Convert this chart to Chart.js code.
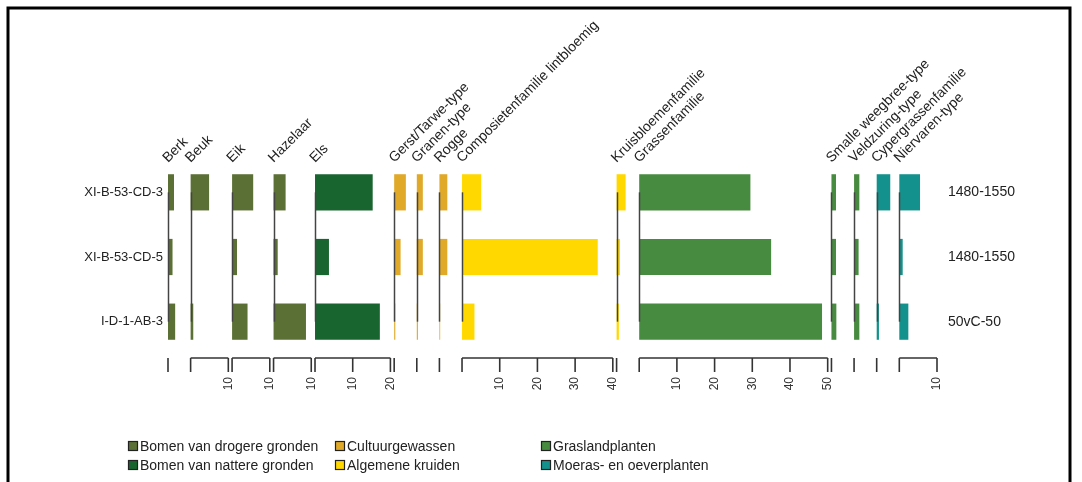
<!DOCTYPE html>
<html>
<head>
<meta charset="utf-8">
<script src="https://cdn.jsdelivr.net/npm/chart.js@4/dist/chart.umd.min.js"></script>
<style>
  body { margin: 0; background: #fff; }
  canvas { display: block; }
</style>
</head>
<body>
<canvas id="pollenChart" width="1082" height="482"></canvas>
<script>
// Samples (rows) and their dating
const samples = ['XI-B-53-CD-3', 'XI-B-53-CD-5', 'I-D-1-AB-3'];
const periods = ['1480-1550', '1480-1550', '50vC-50'];

// Ecological groups for legend + colours
const groupNames = ['Bomen van drogere gronden', 'Bomen van nattere gronden', 'Cultuurgewassen',
  'Algemene kruiden', 'Graslandplanten', 'Moeras- en oeverplanten'];
const groupColors = ['#5b7034', '#19652f', '#e0a928', '#ffd800', '#468b3f', '#13918c'];

// Taxa, their group and axis maximum (0 = no scale drawn, just a tick)
const taxa = ['Berk', 'Beuk', 'Eik', 'Hazelaar', 'Els', 'Gerst/Tarwe-type', 'Granen-type', 'Rogge',
  'Composietenfamilie lintbloemig', 'Kruisbloemenfamilie', 'Grassenfamilie',
  'Smalle weegbree-type', 'Veldzuring-type', 'Cypergrassenfamilie', 'Niervaren-type'];
const taxonGroup = [0, 0, 0, 0, 1, 2, 2, 2, 3, 3, 4, 4, 4, 5, 5];
const scaleMax = [0, 10, 10, 10, 20, 0, 0, 0, 40, 0, 50, 0, 0, 0, 10];

// Percentages per taxon (one value per sample, top to bottom)
const berk = [1.6, 1.2, 1.9];
const beuk = [4.9, 0, 0.7];
const eik = [5.6, 1.3, 4.1];
const hazelaar = [3.2, 1.1, 8.6];
const els = [15.3, 3.7, 17.2];
const gerst = [3.1, 1.7, 0.3];
const granen = [1.6, 1.6, 0.3];
const rogge = [2.1, 2.1, 0.2];
const composieten = [5.1, 36.0, 3.3];
const kruisbloemen = [2.4, 0.9, 0.6];
const grassen = [29.5, 35.0, 48.5];
const smalleWeegbree = [1.2, 1.2, 1.3];
const veldzuring = [1.4, 1.2, 1.4];
const cypergrassen = [3.6, 0, 0.6];
const niervaren = [5.5, 0.9, 2.4];

const values = [berk, beuk, eik, hazelaar, els, gerst, granen, rogge, composieten,
  kruisbloemen, grassen, smalleWeegbree, veldzuring, cypergrassen, niervaren];

// each panel starts where the previous one ended (plus a small gap)
const offsets = [];
let pos = 0;
scaleMax.forEach(m => {
  offsets.push(pos);
  pos += Math.max(m, 5) + 1;
});
const totalUnits = offsets[offsets.length - 1] + Math.max(scaleMax[scaleMax.length - 1], 5);

const FONT = "'Liberation Sans', Arial, sans-serif";
const INK = '#333';

const datasets = taxa.map((t, i) => ({
  label: t,
  data: values[i].map(v => [offsets[i], offsets[i] + v]),
  backgroundColor: groupColors[taxonGroup[i]],
  borderWidth: 0,
  grouped: false,
  barPercentage: 0.56,
  categoryPercentage: 1
}));

const diagramPlugin = {
  id: 'diagram',
  afterDatasetsDraw(chart) {
    const ctx = chart.ctx;
    const x = chart.scales.x;
    const y = chart.scales.y;
    const yTop = y.getPixelForValue(0);
    const yBot = y.getPixelForValue(samples.length - 1);
    const axisY = 358;
    const tickEnd = 372;

    ctx.save();
    // zero lines through the bars
    ctx.strokeStyle = '#444';
    ctx.lineWidth = 1.5;
    offsets.forEach(o => {
      const px = Math.round(x.getPixelForValue(o)) + 0.5;
      ctx.beginPath();
      ctx.moveTo(px, yTop);
      ctx.lineTo(px, yBot);
      ctx.stroke();
    });

    // per-taxon axes at the bottom
    ctx.strokeStyle = INK;
    ctx.lineWidth = 1.6;
    ctx.fillStyle = INK;
    ctx.font = '12px ' + FONT;
    offsets.forEach((o, i) => {
      const x0 = x.getPixelForValue(o);
      const m = scaleMax[i];
      if (m > 0) {
        ctx.beginPath();
        ctx.moveTo(x0, axisY);
        ctx.lineTo(x.getPixelForValue(o + m), axisY);
        ctx.stroke();
      }
      for (let t = 0; t <= m; t += 10) {
        const px = x.getPixelForValue(o + t);
        ctx.beginPath();
        ctx.moveTo(px, axisY);
        ctx.lineTo(px, tickEnd);
        ctx.stroke();
        if (t > 0) {
          ctx.save();
          ctx.translate(px, tickEnd + 5);
          ctx.rotate(-Math.PI / 2);
          ctx.textAlign = 'right';
          ctx.textBaseline = 'middle';
          ctx.fillText(String(t), 0, 0);
          ctx.restore();
        }
      }
    });

    // slanted taxon names
    ctx.font = '14px ' + FONT;
    ctx.fillStyle = '#222';
    taxa.forEach((t, i) => {
      const px = x.getPixelForValue(offsets[i]);
      ctx.save();
      ctx.translate(px, 163);
      ctx.rotate(-Math.PI / 4);
      ctx.textAlign = 'left';
      ctx.textBaseline = 'alphabetic';
      ctx.fillText(t, 0, 0);
      ctx.restore();
    });
    ctx.restore();
  },
  afterDraw(chart) {
    const ctx = chart.ctx;
    ctx.save();
    // legend
    const colX = [128, 335, 541];
    const rowY = [446, 465];
    ctx.font = '14px ' + FONT;
    ctx.textBaseline = 'middle';
    groupNames.forEach((g, i) => {
      const cx = colX[Math.floor(i / 2)];
      const cy = rowY[i % 2];
      ctx.fillStyle = groupColors[i];
      ctx.fillRect(cx, cy - 5, 10, 10);
      ctx.strokeStyle = '#222';
      ctx.lineWidth = 1.2;
      ctx.strokeRect(cx + 0.5, cy - 4.5, 9, 9);
      ctx.fillStyle = '#222';
      ctx.fillText(g, cx + 12, cy + 1);
    });
    // frame
    ctx.strokeStyle = '#000';
    ctx.lineWidth = 3;
    ctx.strokeRect(8, 8, 1062, 500);
    ctx.restore();
  }
};

new Chart(document.getElementById('pollenChart'), {
  type: 'bar',
  data: { labels: samples, datasets: datasets },
  plugins: [diagramPlugin],
  options: {
    indexAxis: 'y',
    responsive: false,
    animation: false,
    layout: { padding: { top: 160, bottom: 128, left: 0, right: 0 } },
    plugins: { legend: { display: false }, tooltip: { enabled: false } },
    scales: {
      x: {
        type: 'linear',
        min: 0,
        max: totalUnits,
        display: false
      },
      y: {
        type: 'category',
        position: 'left',
        grid: { display: false, drawTicks: false },
        border: { display: false },
        ticks: { color: '#222', padding: 5, font: { family: FONT, size: 13 } },
        afterFit: s => { s.width = 168; }
      },
      y2: {
        type: 'category',
        position: 'right',
        labels: periods,
        grid: { display: false, drawTicks: false },
        border: { display: false },
        ticks: { color: '#222', padding: 11, font: { family: FONT, size: 14 } },
        afterFit: s => { s.width = 1082 - 937; }
      }
    }
  }
});
</script>
</body>
</html>
